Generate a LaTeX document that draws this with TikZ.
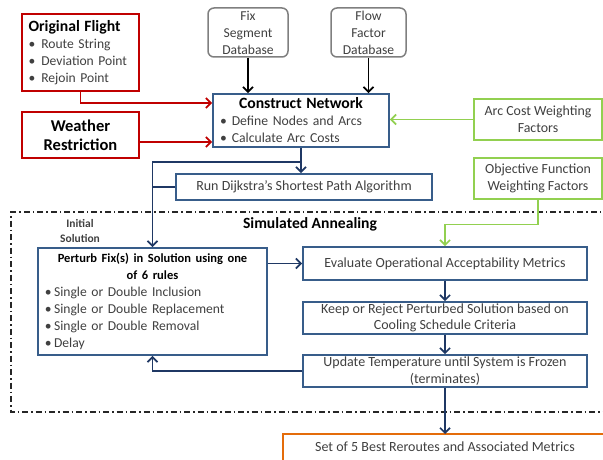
\documentclass[tikz,border=0pt]{standalone}
\usepackage{fontspec}
\setmainfont{Carlito}
\usepackage{tikz}
\usetikzlibrary{arrows.meta,calc}
\definecolor{flightred}{RGB}{192,0,0}
\definecolor{netblue}{RGB}{56,93,138}
\definecolor{arrowblue}{RGB}{31,56,100}
\definecolor{dbgray}{RGB}{127,127,127}
\definecolor{factorgreen}{RGB}{146,208,80}
\definecolor{resultorange}{RGB}{228,108,10}
\definecolor{textgray}{RGB}{64,64,64}
\newcommand{\setfs}[2]{\fontsize{#1}{#2}\selectfont}
\begin{document}
\begin{tikzpicture}
      [
      x=1pt,y=-1pt,
      font=\setfs{14}{16.5},
      >={Straight Barb[length=5pt,width=10pt]},
      redbox/.style={draw=flightred,line width=1.7pt,inner sep=0pt},
      dbbox/.style={draw=dbgray,rounded corners=6pt,line width=1.5pt,inner sep=0pt,align=center,text=textgray,minimum width=80pt,minimum height=49pt,font=\setfs{13.6}{17}},
      bluebox/.style={draw=netblue,line width=1.7pt,inner sep=0pt,align=center,text=textgray},
      greenbox/.style={draw=factorgreen,line width=1.7pt,inner sep=0pt,align=center,text=textgray,minimum width=128pt,minimum height=41pt,font=\setfs{13.9}{17}},
      redflow/.style={draw=flightred,line width=1.7pt,->},
      darkflow/.style={draw=black,line width=1.7pt,->},
      greenflow/.style={draw=factorgreen,line width=1.7pt,->},
      blueflow/.style={draw=arrowblue,line width=1.7pt,->},
      blueline/.style={draw=arrowblue,line width=1.7pt},
      region/.style={draw=black!85,line width=1.1pt,dash pattern=on 6pt off 3pt on 1.5pt off 3pt}
      ]
      \useasboundingbox (0,0) rectangle (603,460);
      \node (orig) at (80.5,52.5) [redbox,minimum width=117pt,minimum height=77pt,text width=104pt,align=left,text=textgray,font=\setfs{13.6}{17}] {{\setfs{15.7}{19}\bfseries\color{black}Original Flight}\\ \textbullet\hspace{6pt}Route String\\ \textbullet\hspace{6pt}Deviation Point\\ \textbullet\hspace{6pt}Rejoin Point};
      \node (weather) at (80.5,135) [redbox,minimum width=117pt,minimum height=46pt,align=center,font=\setfs{16.5}{19}\bfseries] {Weather\\Restriction};
      \node (fixdb) at (248,32.5) [dbbox] {Fix\\Segment\\Database};
      \node (flowdb) at (368.5,32.5) [dbbox,minimum width=75pt] {Flow\\Factor\\Database};
      \node (cn) at (301,120.5) [bluebox,minimum width=176pt,minimum height=53pt,text width=162pt,align=left,font=\setfs{13.7}{17}] {\makebox[\linewidth]{\setfs{15.7}{17}\bfseries\color{black}Construct Network}\\ \textbullet\hspace{5pt}Define Nodes and Arcs\\ \textbullet\hspace{5pt}Calculate Arc Costs};
      \node (arccost) at (538,119.5) [greenbox] {Arc Cost Weighting\\Factors};
      \node (objfn) at (538,178.5) [greenbox] {Objective Function\\Weighting Factors};
      \node (dijk) at (304,187) [bluebox,minimum width=256pt,minimum height=26pt] {Run Dijkstra's Shortest Path Algorithm};
      \node (perturb) at (152.5,301.5) [bluebox,minimum width=229pt,minimum height=107pt,text width=215pt,align=left,font=\setfs{13.6}{17}] {\makebox[\linewidth]{\setfs{12.5}{17}\bfseries\color{black}Perturb Fix(s) in Solution using one}\\ \makebox[\linewidth]{\setfs{12.5}{17}\bfseries\color{black}of 6 rules}\\ \textbullet\,Single or Double Inclusion\\ \textbullet\,Single or Double Replacement\\ \textbullet\,Single or Double Removal\\ \textbullet\,Delay};
      \node (eval) at (445,263.5) [bluebox,minimum width=284pt,minimum height=33pt] {Evaluate Operational Acceptability Metrics};
      \node (keep) at (445,318) [bluebox,minimum width=284pt,minimum height=32pt] {Keep or Reject Perturbed Solution based on\\Cooling Schedule Criteria};
      \node (update) at (445,371) [bluebox,minimum width=284pt,minimum height=32pt] {Update Temperature until System is Frozen\\(terminates)};
      \node (set) at (445,447) [text=textgray] {Set of 5 Best Reroutes and Associated Metrics};
      \node (annealing) at (310,224) [font=\setfs{15.6}{17}\bfseries] {Simulated Annealing};
      \node (initsol) at (80,230.5) [align=center,font=\setfs{11.5}{15}\bfseries,text=textgray] {Initial\\Solution};
      \coordinate (settop) at (445,434);
      \coordinate (split) at (cn.south |- 0,162);
      \coordinate (cnin) at ($(cn.west)+(0,21.5)$);
      \draw [region] (610,212) -| (11,412) -- (610,412);
      \draw [resultorange,line width=1.7pt] (283,465) |- (610,434);
      \draw [redflow] (orig.south) |- ($(cn.west)+(0,-17.5)$);
      \draw [redflow] (weather.east |- cnin) -- (cnin);
      \draw [darkflow] (fixdb.south) -- (fixdb.south |- cn.north);
      \draw [darkflow] (flowdb.south) -- (flowdb.south |- cn.north);
      \draw [greenflow] (arccost.west) -- (arccost.west -| cn.east);
      \draw [greenflow] (objfn.south) -- ++(0,24.5) -| (eval.north);
      \draw [blueflow] (cn.south) -- (cn.south |- dijk.north);
      \draw [blueflow] (split) -| (perturb.north);
      \draw [blueline] (dijk.west) -- (dijk.west -| perturb.north);
      \draw [blueflow] (perturb.east |- eval.west) -- (eval.west);
      \draw [blueflow] (eval.south) -- (keep.north);
      \draw [blueflow] (keep.south) -- (update.north);
      \draw [blueflow] (update.west) -| (perturb.south);
      \draw [blueflow] (update.south) -- (settop);
    \end{tikzpicture}
\end{document}
